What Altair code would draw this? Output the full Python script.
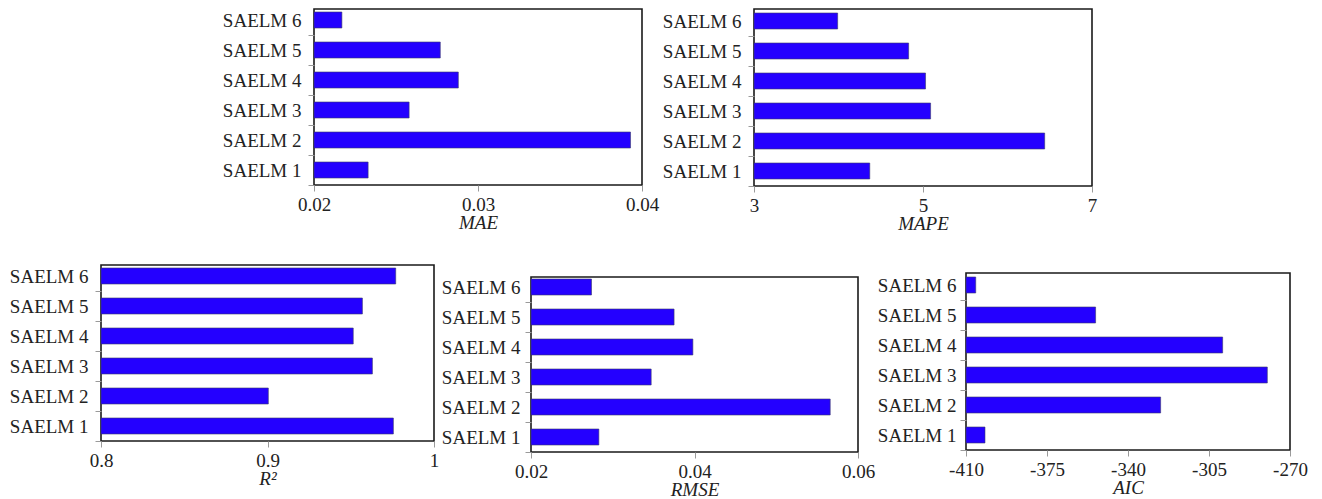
import altair as alt
import pandas as pd

models = ["SAELM 1", "SAELM 2", "SAELM 3", "SAELM 4", "SAELM 5", "SAELM 6"]
order = ["SAELM 6", "SAELM 5", "SAELM 4", "SAELM 3", "SAELM 2", "SAELM 1"]

mae = [0.0233, 0.0393, 0.0258, 0.0288, 0.0277, 0.0217]
mape = [4.37, 6.44, 5.09, 5.03, 4.83, 3.99]
r2 = [0.9756, 0.9005, 0.963, 0.9515, 0.957, 0.977]
rmse = [0.0283, 0.0566, 0.0347, 0.0398, 0.0375, 0.0274]
aic = [-401.8, -325.9, -279.8, -299.1, -354.0, -405.8]

mae_ticks = [0.02, 0.03, 0.04]
mape_ticks = [3, 5, 7]
r2_ticks = [0.8, 0.9, 1.0]
rmse_ticks = [0.02, 0.04, 0.06]
aic_ticks = [-410, -375, -340, -305, -270]

FONT = "Liberation Serif"
BAR = "#2400ff"
STEP = 30


def panel(vals, title, ticks, label_expr, w, h, lpad=7):
    df = pd.DataFrame({"model": models, "v": vals})
    lo, hi = ticks[0], ticks[-1]
    half = STEP / 2
    return (
        alt.Chart(df)
        .mark_bar(color=BAR, stroke="#3a3a6a", strokeWidth=0.6, size=16)
        .encode(
            y=alt.Y(
                "model:N",
                sort=order,
                scale=alt.Scale(paddingInner=0, paddingOuter=0,
                                range=[h - STEP * len(models), h]),
                axis=alt.Axis(title=None, labelPadding=lpad,
                              tickOffset=half, labelOffset=-half),
            ),
            x=alt.X(
                "v:Q",
                scale=alt.Scale(domain=[lo, hi], nice=False, zero=False),
                axis=alt.Axis(values=ticks, title=title, labelExpr=label_expr,
                              labelPadding=4, labelFlush=False, labelOverlap=False),
            ),
            x2=alt.X2Datum(lo),
        )
        .properties(width=w, height=h)
    )


def blank(w, h):
    return (
        alt.Chart(pd.DataFrame({"a": [0]}))
        .mark_point(opacity=0, size=0, strokeWidth=0)
        .encode(x=alt.value(0), y=alt.value(0))
        .properties(width=w, height=h, view=alt.ViewBackground(stroke=None))
    )


fmt2 = "format(datum.value, '.2f')"
plain = "'' + datum.value"

p1 = panel(mae, "MAE", mae_ticks, fmt2, 328, 176)
p2 = panel(mape, "MAPE", mape_ticks, plain, 338, 177)
p3 = panel(r2, "R²", r2_ticks, plain, 333, 176)
p4 = panel(rmse, "RMSE", rmse_ticks, fmt2, 327, 175, lpad=5)
p5 = panel(aic, "AIC", aic_ticks, plain, 324, 177, lpad=4)

top = alt.hconcat(blank(120, 10), p1, blank(1, 10), p2, spacing=0)
bottom = alt.hconcat(
    p3,
    alt.vconcat(blank(1, 11), p4, spacing=0),
    alt.vconcat(blank(1, 7), p5, spacing=0),
    spacing=0,
)

chart = (
    alt.vconcat(top, bottom, spacing=30)
    .properties(padding=0)
    .configure_view(stroke="#1a1a1a", strokeWidth=1.6)
    .configure_axis(
        domain=False,
        grid=False,
        labelFont=FONT,
        labelFontSize=19,
        labelColor="#222222",
        tickColor="#9a9a9a",
        tickSize=6,
        tickWidth=1,
        titleFont=FONT,
        titleFontSize=19,
        titleFontStyle="italic",
        titleFontWeight="normal",
        titleColor="#222222",
        titlePadding=-1,
    )
)

chart.save("out.html", embed_options={"renderer": "svg", "actions": False})
